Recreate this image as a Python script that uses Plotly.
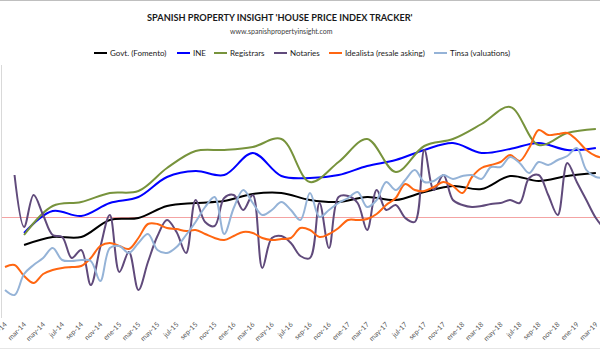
import plotly.graph_objects as go

# ---------------- data ----------------
mes = ["ene", "feb", "mar", "abr", "may", "jun", "jul", "ago", "sep", "oct", "nov", "dic"]
months = [f"{mes[i % 12]}-{14 + i // 12}" for i in range(64)]   # ene-14 .. abr-19
quarters = months[2::3]                                           # mar-14 .. mar-19
notaries_months = months[1:]                                      # feb-14 .. abr-19
tick_labels = months[0:63:2]                                      # ene-14, mar-14, ... mar-19

govt = [-2.8, -2.0, -2.0, -0.3, -0.1, 1.1, 1.4, 1.6, 2.3, 2.4, 1.7, 1.5, 2.0, 1.7,
        2.5, 3.1, 2.8, 4.1, 3.6, 4.1, 4.4]
ine = [-1.6, 0.6, 0.1, 1.4, 2.0, 4.0, 4.6, 4.2, 6.4, 4.1, 3.9, 4.2, 5.1, 5.7,
       6.7, 7.4, 6.4, 6.8, 7.4, 6.7, 6.9]
registrars = [-1.8, 1.1, 1.5, 2.4, 2.6, 4.9, 6.6, 6.7, 7.0, 7.8, 3.5, 5.5, 7.8, 4.5,
              7.1, 7.8, 9.3, 11.0, 7.2, 8.4, 8.8]
notaries = [4.2, -1.0, 2.2, 0.2, -1.8, -2.0, -4.1, -3.3, -6.8, -3.0, 0.2, -5.5, -3.5,
            -7.3, -4.5, -1.9, -0.3, -1.5, -3.6, 1.7, -0.5, -0.9, 1.9, 2.2, 0.7, 2.2,
            -5.1, -2.1, -1.9, -2.6, -3.9, -4.1, 1.4, -3.1, 2.0, 2.1, 1.4, -1.3, 2.7,
            0.7, 1.2, -0.1, -0.5, 6.7, 2.7, 4.2, 1.7, 1.2, 1.0, 1.1, 1.3, 1.4, 1.7,
            1.4, 3.9, 4.2, 2.2, 0.2, 5.4, 3.5, 1.7, -0.1, -1.3]
idealista = [-5.0, -4.8, -5.9, -6.6, -5.7, -5.3, -5.1, -5.0, -4.9, -4.1, -2.9, -2.6,
             -2.9, -3.2, -2.1, -0.7, -0.7, -1.1, -1.2, -1.4, -1.3, -1.7, -2.1, -2.3,
             -1.9, -1.5, -1.6, -2.1, -2.3, -2.2, -2.1, -1.1, -1.3, -2.0, -1.7, -1.1,
             -0.3, -0.3, -0.2, 0.3, 1.2, 1.9, 3.3, 2.7, 2.6, 3.0, 3.5, 3.1, 2.4, 4.0,
             4.9, 5.2, 5.5, 6.2, 5.6, 6.9, 8.7, 8.2, 8.3, 8.4, 7.7, 6.7, 6.1, 5.9]
tinsa = [-7.3, -7.8, -5.7, -4.8, -4.1, -3.1, -4.3, -4.4, -4.3, -4.4, -6.4, -3.1, -2.9,
         -3.6, -2.6, -1.7, -3.3, -3.6, -3.0, -1.8, -0.5, 1.0, 2.0, -1.7, 0.9, 2.7,
         1.4, 0.2, 0.7, 1.5, 0.7, -0.3, 2.4, 0.0, 0.7, 1.4, 1.9, 2.5, 1.0, 1.7, 3.5,
         2.7, 3.7, 4.7, 3.5, 3.6, 4.2, 3.8, 4.1, 4.2, 3.8, 5.0, 5.0, 6.0, 5.4, 4.4,
         5.5, 5.2, 5.7, 6.1, 6.9, 4.7, 4.0, 3.9]

series = [
    ("Govt. (Fomento)", quarters, govt, "#000000"),
    ("INE", quarters, ine, "#0000FF"),
    ("Registrars", quarters, registrars, "#77933C"),
    ("Notaries", notaries_months, notaries, "#604A7B"),
    ("Idealista (resale asking)", months, idealista, "#FF6611"),
    ("Tinsa (valuations)", months, tinsa, "#95B3D7"),
]

# ---------------- figure ----------------
W, H = 600, 350
L, R, T, B = 2, 0, 65, 32
PW, PH = W - L - R, H - T - B


def px(x):
    return (x - L) / PW


def py(y):
    return (H - B - y) / PH


fig = go.Figure()
for name, xs, ys, col in series:
    fig.add_trace(go.Scatter(x=xs, y=ys, name=name, mode="lines",
                             line=dict(color=col, width=2, shape="spline", smoothing=1),
                             showlegend=False))

font = "Lato, Open Sans, sans-serif"
annotations = [
    dict(text="<b>SPANISH PROPERTY INSIGHT 'HOUSE PRICE INDEX TRACKER'</b>",
         x=px(280), y=py(18), xref="paper", yref="paper", showarrow=False,
         xanchor="center", yanchor="middle", font=dict(family=font, size=9.2, color="#1a1a1a")),
    dict(text="www.spanishpropertyinsight.com",
         x=px(281), y=py(31), xref="paper", yref="paper", showarrow=False,
         xanchor="center", yanchor="middle", font=dict(family=font, size=7, color="#404040")),
]
shapes = []
leg_pos = [94, 177, 214, 274, 329, 434]
for (name, xs, ys, col), x0 in zip(series, leg_pos):
    shapes.append(dict(type="line", xref="paper", yref="paper",
                       x0=px(x0), x1=px(x0 + 13), y0=py(53), y1=py(53),
                       line=dict(color=col, width=2)))
    annotations.append(dict(text=name, x=px(x0 + 14), y=py(53), xref="paper", yref="paper",
                            showarrow=False, xanchor="left", yanchor="middle",
                            font=dict(family=font, size=8, color="#1a1a1a")))
# outer chart border (top and bottom edges)
shapes.append(dict(type="line", xref="paper", yref="paper", x0=px(0), x1=px(600),
                   y0=py(0.5), y1=py(0.5), line=dict(color="#bfbfbf", width=1)))
shapes.append(dict(type="line", xref="paper", yref="paper", x0=px(0), x1=px(600),
                   y0=py(348.5), y1=py(348.5), line=dict(color="#e6e6e6", width=1)))

ymax = (217 - T) / 10
ymin = (217 - (H - B)) / 10
xmin = (L - 5) / 9.53
xmax = (W - R - 5) / 9.53

fig.update_layout(
    width=W, height=H,
    margin=dict(l=L, r=R, t=T, b=B, pad=0),
    paper_bgcolor="white", plot_bgcolor="white",
    showlegend=False,
    annotations=annotations, shapes=shapes,
    xaxis=dict(type="category", categoryorder="array", categoryarray=months,
               range=[xmin, xmax], tickmode="array", tickvals=tick_labels,
               ticktext=tick_labels, tickangle=-45, showgrid=False, zeroline=False,
               showline=False, ticks="", automargin=False,
               tickfont=dict(family=font, size=7, color="#595959")),
    yaxis=dict(range=[ymin, ymax], showgrid=False, showticklabels=False, ticks="",
               showline=True, linecolor="#d9d9d9", linewidth=1,
               zeroline=True, zerolinecolor="#f4a3a3", zerolinewidth=1, automargin=False),
)

fig.write_html("out.html")
